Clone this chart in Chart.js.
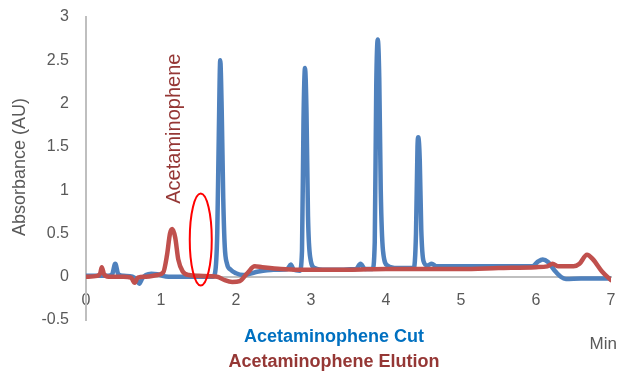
<!DOCTYPE html>
<html>
<head>
<meta charset="utf-8">
<script src="https://cdn.jsdelivr.net/npm/chart.js@4/dist/chart.umd.min.js"></script>
<style>
  html, body { margin: 0; padding: 0; background: #fff; }
  #wrap { width: 619px; height: 371px; }
</style>
</head>
<body>
<div id="wrap"><canvas id="chromatogram" width="619" height="371"></canvas></div>
<script>
// series names and axis text
const seriesNames = ['Acetaminophene Cut', 'Acetaminophene Elution'];
const yAxisTitle = 'Absorbance (AU)';
const xAxisTitle = 'Min';
const peakLabel = 'Acetaminophene';

// tick values
const xTickValues = [0, 1, 2, 3, 4, 5, 6, 7];
const yTickValues = [-0.5, 0, 0.5, 1, 1.5, 2, 2.5, 3];

// Acetaminophene Cut (blue), time in min / absorbance in AU
const cutTimes = [0, 0.3, 0.35, 0.39, 0.43, 0.5, 0.62, 0.67, 0.71, 0.75, 0.8, 0.87, 0.95, 1.02, 1.1, 1.4,
  1.69, 1.72, 1.75, 1.77, 1.79, 1.81, 1.83, 1.85, 1.88, 1.93, 2.0, 2.1, 2.3, 2.5, 2.68, 2.73, 2.77, 2.85,
  2.88, 2.9, 2.92, 2.94, 2.96, 2.99, 3.05, 3.2, 3.6, 3.66, 3.72, 3.82,
  3.85, 3.87, 3.89, 3.91, 3.93, 3.96, 4.02, 4.15, 4.37,
  4.4, 4.42, 4.43, 4.45, 4.47, 4.5, 4.55, 4.61, 4.67, 5.0, 5.5, 5.95,
  6.02, 6.09, 6.16, 6.25, 6.33, 6.4, 6.6, 7.0];
const cutAbs = [0.01, 0.01, 0.03, 0.15, 0.03, 0.01, 0.0, -0.03, -0.08, -0.02, 0.02, 0.035, 0.03, 0.01, 0.0, 0.0,
  0.0, 0.04, 0.5, 1.6, 2.5, 1.9, 0.9, 0.35, 0.15, 0.08, 0.04, 0.02, 0.06, 0.08, 0.085, 0.14, 0.08, 0.07,
  0.3, 1.8, 2.41, 1.9, 0.7, 0.22, 0.1, 0.08, 0.09, 0.15, 0.09, 0.09,
  0.4, 2.2, 2.74, 2.3, 1.0, 0.3, 0.13, 0.1, 0.1,
  0.5, 1.5, 1.61, 1.35, 0.55, 0.18, 0.13, 0.15, 0.12, 0.12, 0.12, 0.12,
  0.17, 0.2, 0.17, 0.07, 0.0, -0.025, -0.02, -0.02];

// Acetaminophene Elution (red)
const elutionTimes = [0, 0.15, 0.19, 0.21, 0.24, 0.3, 0.5, 0.6, 0.65, 0.69, 0.8, 0.95,
  1.03, 1.08, 1.12, 1.15, 1.19, 1.23, 1.29, 1.37, 1.5, 1.75, 1.85, 1.95, 2.05, 2.15,
  2.25, 2.35, 2.6, 3.0, 3.5, 4.0, 4.5, 5.0, 5.5, 6.0, 6.15, 6.22, 6.3, 6.5,
  6.58, 6.68, 6.76, 6.88, 7.0];
const elutionAbs = [0.0, 0.01, 0.04, 0.11, 0.03, 0.0, 0.0, -0.01, -0.07, -0.01, 0.0, 0.02,
  0.05, 0.25, 0.5, 0.55, 0.45, 0.2, 0.06, 0.02, 0.01, 0.0, -0.04, -0.06, -0.05, 0.04,
  0.12, 0.11, 0.09, 0.08, 0.08, 0.09, 0.09, 0.09, 0.1, 0.11, 0.12, 0.15, 0.12, 0.12,
  0.15, 0.255, 0.2, 0.06, -0.04];

// red circle marking the missing peak: centre (min, AU)
const markerCentre = [1.53, 0.43];
// rotated label position (min, AU)
const peakLabelAt = [1.16, 1.71];

const toPoints = (xs, ys) => xs.map((x, i) => ({ x: x, y: ys[i] }));

const gray = '#595959';
const fontFamily = '"Liberation Sans", Arial, sans-serif';

const noScalePadding = s => {
  s.paddingTop = 0; s.paddingBottom = 0; s.paddingLeft = 0; s.paddingRight = 0;
};

const overlayText = {
  id: 'overlayText',
  afterDraw(chart) {
    const ctx = chart.ctx;
    const xs = chart.scales.x;
    const ys = chart.scales.y;
    ctx.save();

    // y axis title
    ctx.fillStyle = gray;
    ctx.font = '18px ' + fontFamily;
    ctx.textAlign = 'center';
    ctx.textBaseline = 'middle';
    ctx.translate(20, 167);
    ctx.rotate(-Math.PI / 2);
    ctx.fillText(yAxisTitle, 0, 0);
    ctx.setTransform(1, 0, 0, 1, 0, 0);

    // peak label
    ctx.fillStyle = '#953735';
    ctx.font = '20px ' + fontFamily;
    ctx.translate(xs.getPixelForValue(peakLabelAt[0]) + 1, ys.getPixelForValue(peakLabelAt[1]));
    ctx.rotate(-Math.PI / 2);
    ctx.fillText(peakLabel, 0, 0);
    ctx.setTransform(1, 0, 0, 1, 0, 0);

    // red ellipse
    ctx.strokeStyle = '#FF0000';
    ctx.lineWidth = 2;
    ctx.beginPath();
    ctx.ellipse(xs.getPixelForValue(markerCentre[0]), ys.getPixelForValue(markerCentre[1]), 11, 46, 0, 0, Math.PI * 2);
    ctx.stroke();

    // series names under the axis
    ctx.textBaseline = 'alphabetic';
    ctx.font = 'bold 18px ' + fontFamily;
    ctx.fillStyle = '#0070C0';
    ctx.fillText(seriesNames[0], 334, 342);
    ctx.fillStyle = '#953735';
    ctx.fillText(seriesNames[1], 334, 367);

    // x axis unit
    ctx.fillStyle = gray;
    ctx.font = '17px ' + fontFamily;
    ctx.textAlign = 'right';
    ctx.fillText(xAxisTitle, 617, 349);
    ctx.restore();
  }
};

new Chart(document.getElementById('chromatogram'), {
  type: 'line',
  data: {
    datasets: [
      {
        label: seriesNames[1],
        data: toPoints(elutionTimes, elutionAbs),
        borderColor: '#C0504D',
        borderWidth: 4.5,
        order: 0
      },
      {
        label: seriesNames[0],
        data: toPoints(cutTimes, cutAbs),
        borderColor: '#4F81BD',
        borderWidth: 4.5,
        order: 1
      }
    ]
  },
  options: {
    responsive: false,
    animation: false,
    devicePixelRatio: 1,
    layout: { padding: { left: 0, top: 17, right: 8, bottom: 51 } },
    elements: {
      point: { radius: 0 },
      line: { cubicInterpolationMode: 'monotone', borderCapStyle: 'round', borderJoinStyle: 'round' }
    },
    plugins: {
      legend: { display: false },
      tooltip: { enabled: false }
    },
    scales: {
      x: {
        type: 'linear',
        position: { y: 0 },
        min: 0,
        max: 7,
        afterBuildTicks: s => { s.ticks = xTickValues.map(v => ({ value: v })); },
        afterFit: noScalePadding,
        grid: { display: false, drawTicks: false },
        border: { display: true, color: '#BFBFBF', width: 2 },
        ticks: { color: gray, padding: 14, font: { size: 16, family: fontFamily }, callback: v => String(v) }
      },
      y: {
        min: -0.5,
        max: 3,
        afterBuildTicks: s => { s.ticks = yTickValues.map(v => ({ value: v })); },
        afterFit: s => { s.width = 86; noScalePadding(s); },
        grid: { display: false, drawTicks: false },
        border: { display: true, color: '#BFBFBF', width: 2 },
        ticks: { color: gray, padding: 17, font: { size: 16, family: fontFamily }, callback: v => String(v) }
      }
    }
  },
  plugins: [overlayText]
});
</script>
</body>
</html>
